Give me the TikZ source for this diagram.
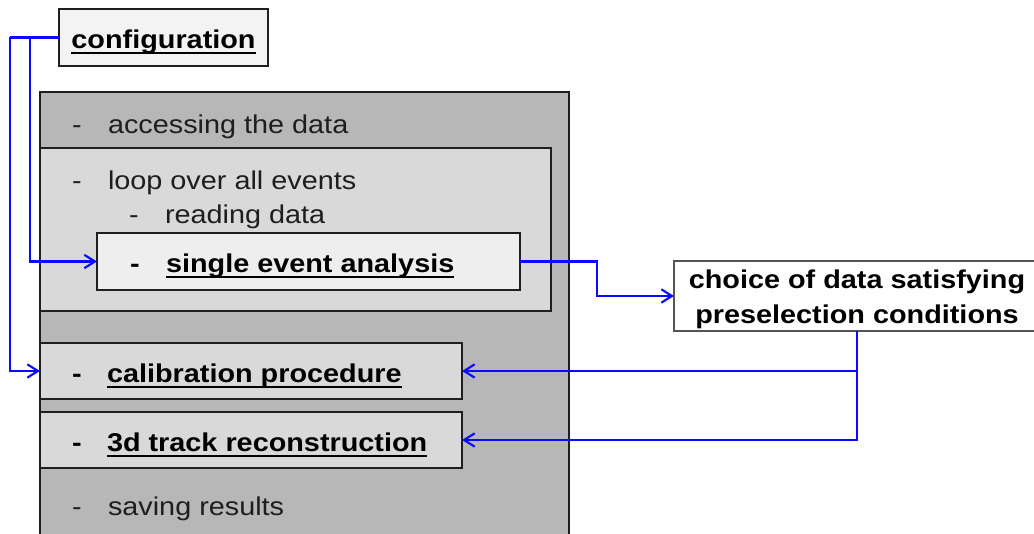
\documentclass[tikz,border=0pt]{standalone}
\usepackage{fontspec}
\setmainfont{Liberation Sans}[FakeStretch=1.12]
\usetikzlibrary{fit,arrows.meta}
\definecolor{bigfill}{HTML}{B7B7B7}
\definecolor{midfill}{HTML}{D9D9D9}
\definecolor{lightfill}{HTML}{EEEEEE}
\definecolor{cfgfill}{HTML}{F3F3F3}
\definecolor{edgecol}{HTML}{1F1F1F}
\definecolor{choiceedge}{HTML}{555555}
\definecolor{linkblue}{HTML}{0A0AFF}
\definecolor{txtcol}{HTML}{1E1E1E}
\newcommand\myul[1]{\setbox0\hbox{#1}\rlap{\rule[-4.3pt]{\wd0}{1.6pt}}\box0}
\begin{document}
\begin{tikzpicture}[x=0.75pt,y=-0.75pt,
  box/.style={draw=edgecol, line width=1.5pt, inner sep=0pt, outer sep=0pt},
  lbl/.style={anchor=base west, inner sep=0pt, outer sep=0pt, font=\fontsize{19.3}{23}\selectfont, text=txtcol},
  blbl/.style={lbl, font=\fontsize{19.3}{23}\selectfont\bfseries, text=black},
  link/.style={draw=linkblue, line width=1.6pt, -{Straight Barb[length=8pt,width=10pt]}},
  plainlink/.style={draw=linkblue, line width=1.6pt}]
\useasboundingbox (0,0) rectangle (1034,534);
% boxes
\node[box, fill=bigfill, fit={(40,92.5) (569,545)}] (main) {};
\node[box, fill=midfill, fit={(40,148) (551,311)}] (loop) {};
\node[box, fill=lightfill, fit={(97,233) (520,290)}] (single) {};
\node[box, fill=midfill, fit={(40,343) (462,399)}] (calib) {};
\node[box, fill=midfill, fit={(40,412) (462,468)}] (track) {};
\node[box, fill=cfgfill, fit={(59,9) (268,66)}] (config) {};
\node[draw=choiceedge, line width=1pt, fill=white, inner sep=0pt, outer sep=0pt, fit={(674,261) (1040,331)}] (choice) {};
% texts
\node[blbl, anchor=base] (tconfig) at (163.5,48.5) {\myul{configuration}};
\node[lbl] (d1) at (72,134) {-};
\node[lbl] (t1) at (108,134) {accessing the data};
\node[lbl] (d2) at (72,189.5) {-};
\node[lbl] (t2) at (108,189.5) {loop over all events};
\node[lbl] (d3) at (129,223.5) {-};
\node[lbl] (t3) at (165,223.5) {reading data};
\node[blbl] (d4) at (130,272.5) {-};
\node[blbl] (t4) at (166,272.5) {\myul{single event analysis}};
\node[blbl] (d5) at (72,382) {-};
\node[blbl] (t5) at (107,382) {\myul{calibration procedure}};
\node[blbl] (d6) at (72,451) {-};
\node[blbl] (t6) at (107,451) {\myul{3d track reconstruction}};
\node[lbl] (d7) at (72,515.5) {-};
\node[lbl] (t7) at (108,515.5) {saving results};
\node[blbl, anchor=base] (c1) at (857,289) {choice of data satisfying};
\node[blbl, anchor=base] (c2) at (857,324) {preselection conditions};
% connectors
\coordinate (j1) at (10,37.5);
\coordinate (j2) at (30,37.5);
\coordinate (k1) at (597,0);
\draw[plainlink] (config.west) -- (j1);
\draw[link] (j1) |- (calib.west);
\draw[link] (j2) |- (single.west);
\draw[link] (single.east) -- (single.east -| k1) |- (choice.west);
\draw[link] (choice.south) |- (track.east);
\draw[link] (choice.south |- calib.east) -- (calib.east);
\end{tikzpicture}
\end{document}
